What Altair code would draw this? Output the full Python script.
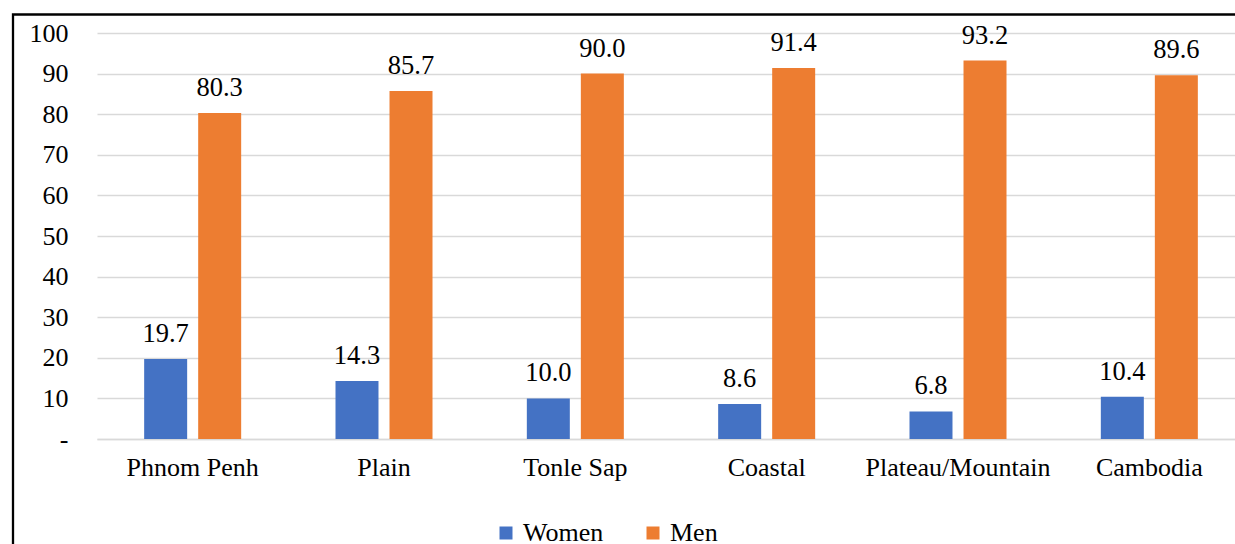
import altair as alt
import pandas as pd

regions = ["Phnom Penh", "Plain", "Tonle Sap", "Coastal", "Plateau/Mountain", "Cambodia"]
women = [19.7, 14.3, 10.0, 8.6, 6.8, 10.4]
men = [80.3, 85.7, 90.0, 91.4, 93.2, 89.6]
groups = ["Women", "Men"]
colors = ["#4472C4", "#ED7D31"]
y_ticks = [0, 10, 20, 30, 40, 50, 60, 70, 80, 90, 100]

rows = []
for r, w, m in zip(regions, women, men):
    rows.append({"region": r, "group": "Women", "share": w})
    rows.append({"region": r, "group": "Men", "share": m})
df = pd.DataFrame(rows)

FONT = "'Liberation Serif', 'Times New Roman', serif"

x_enc = alt.X(
    "region:N",
    sort=regions,
    scale=alt.Scale(range=[0, 1148], paddingInner=0.493, paddingOuter=0.2465),
    axis=alt.Axis(
        title=None, labelAngle=0, ticks=False, domain=True, domainColor="#d9d9d9",
        domainWidth=1.5, labelFont=FONT, labelFontSize=26, labelColor="black",
        labelPadding=15, labelLimit=400, grid=False,
    ),
)
xo_enc = alt.XOffset(
    "group:N", sort=groups,
    scale=alt.Scale(domain=groups, paddingInner=0.204, paddingOuter=0),
)
y_enc = alt.Y(
    "share:Q",
    scale=alt.Scale(domain=[0, 100], nice=False),
    axis=alt.Axis(
        title=None, values=y_ticks, ticks=False, domain=False, grid=True,
        gridColor="#d9d9d9", gridWidth=1.5, labelFont=FONT, labelFontSize=26,
        labelColor="black", labelPadding=29,
        labelExpr="datum.value == 0 ? '-' : datum.label",
    ),
)

bars = alt.Chart(df).mark_bar().encode(
    x=x_enc,
    xOffset=xo_enc,
    y=y_enc,
    color=alt.Color(
        "group:N", sort=groups,
        scale=alt.Scale(domain=groups, range=colors),
        legend=alt.Legend(
            title=None, orient="none", direction="horizontal", legendX=396, legendY=487,
            symbolType="square", symbolSize=169, symbolStrokeWidth=0,
            labelFont=FONT, labelFontSize=26, labelColor="black", labelOffset=4,
            columnPadding=36,
        ),
    ),
)

labels = alt.Chart(df).mark_text(
    font=FONT, fontSize=26.5, color="black", baseline="alphabetic", dy=-17
).encode(
    x=alt.X("region:N", sort=regions),
    xOffset=alt.XOffset("group:N", sort=groups),
    y="share:Q",
    text=alt.Text("share:Q", format=".1f"),
)

# outer frame around the figure
frame = alt.Chart(pd.DataFrame({"k": [0]})).mark_rect(
    fill=None, stroke="black", strokeWidth=2.3
).encode(
    x=alt.value(-84), x2=alt.value(1300),
    y=alt.value(-18.5), y2=alt.value(700),
)

chart = alt.layer(frame, bars, labels).properties(
    width=1138, height=406,
    autosize=alt.AutoSizeParams(type="none"),
    padding={"left": 97, "top": 33, "right": 0, "bottom": 105},
    background="white",
).configure_view(stroke=None)

chart.save("out.html", embed_options={"renderer": "svg", "actions": False})
